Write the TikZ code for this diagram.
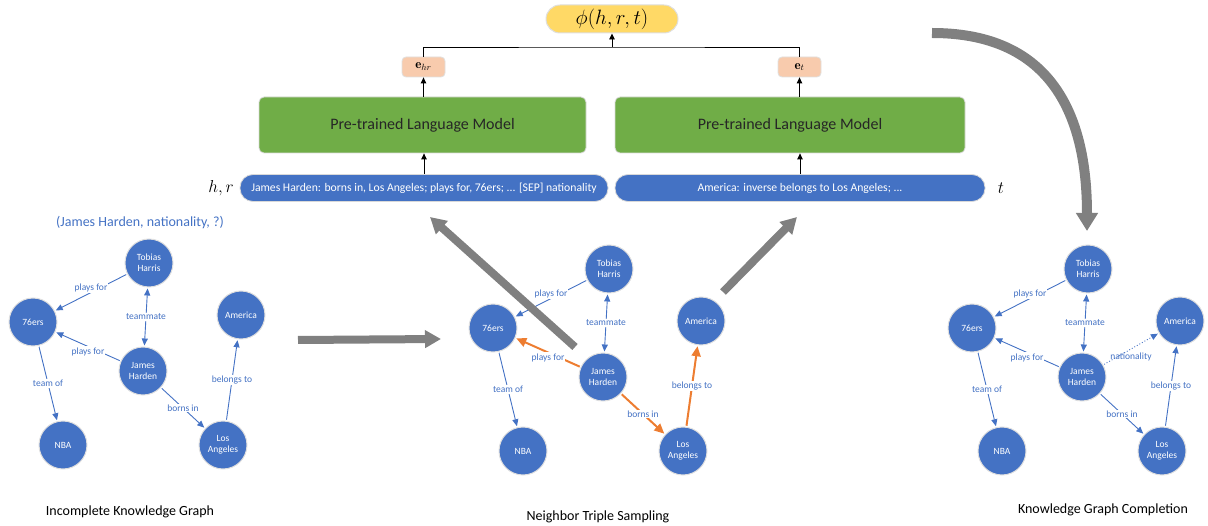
\documentclass[tikz,border=0pt]{standalone}
\usepackage{fontspec}
\newfontfamily\calibri{Carlito}
\usepackage{amsmath}
\usepackage{tikz}
\usetikzlibrary{arrows.meta,positioning,calc}
\definecolor{kgblue}{RGB}{68,114,196}
\definecolor{lmgreen}{RGB}{112,173,71}
\definecolor{hlorange}{RGB}{237,125,49}
\definecolor{phiyellow}{RGB}{255,217,102}
\definecolor{embpeach}{RGB}{248,203,173}
\definecolor{arrowgray}{RGB}{128,128,128}
\tikzset{
  kgnode/.style={circle, minimum size=48pt, inner sep=0pt, outer sep=1.5pt,
                 fill=kgblue, draw=gray!25, line width=1pt, text=white,
                 align=center, font=\calibri\fontsize{9.5}{11}\selectfont},
  kgedge/.style={draw=kgblue, line width=0.9pt, -{Triangle[length=7pt,width=6pt]}},
  kgboth/.style={draw=kgblue, line width=0.9pt,
                 {Triangle[length=7pt,width=6pt]}-{Triangle[length=7pt,width=6pt]}},
  hledge/.style={draw=hlorange, line width=2pt, -{Triangle[length=10pt,width=9pt]}},
  elabel/.style={font=\calibri\fontsize{9.5}{10}\selectfont, text=kgblue,
                 fill=white, inner sep=1pt},
  lmbox/.style={rectangle, rounded corners=5pt, minimum height=56pt, fill=lmgreen,
                draw=gray!30, line width=0.8pt, text=black!85,
                font=\calibri\fontsize{16}{18}\selectfont},
  textbar/.style={rectangle, rounded corners=13pt, minimum height=27pt, fill=kgblue,
                  draw=gray!30, line width=0.8pt, text=white,
                  font=\calibri\fontsize{11.7}{13}\selectfont},
  embbox/.style={rectangle, rounded corners=4pt, minimum width=43pt, minimum height=20pt,
                 inner sep=0pt, fill=embpeach, draw=gray!25, line width=0.8pt,
                 font=\fontsize{13}{15}\selectfont},
  phibox/.style={rectangle, rounded corners=14pt, minimum width=132pt, minimum height=28pt,
                 fill=phiyellow, draw=gray!25, line width=1pt,
                 font=\fontsize{20}{22}\selectfont},
  flow/.style={draw=black, line width=0.9pt, -{Triangle[length=6pt,width=5.5pt]}},
  bigarrow/.style={draw=arrowgray, line width=8pt, -{Triangle[length=16pt,width=17pt]}},
  caption/.style={font=\calibri\fontsize{14}{16}\selectfont, text=black},
}
\begin{document}
\begin{tikzpicture}[x=1pt, y=-1pt]
  \useasboundingbox (0,0) rectangle (1208,526);

  % Scoring head
  \node[phibox] (phi) at (612,19) {$\phi(h,r,t)$};
  \node[embbox] (ehr) at (423.5,67) {$\mathbf{e}_{hr}$};
  \node[embbox] (et) at (799.5,67) {$\mathbf{e}_{t}$};
  \coordinate (join) at (612,47);
  \draw[line width=0.9pt] (ehr.north) |- (join) -| (et.north);
  \draw[flow] (join) -- (phi.south);

  % Encoders
  \node[lmbox, minimum width=327pt] (lmL) at (422.5,125) {Pre-trained Language Model};
  \node[lmbox, minimum width=350pt] (lmR) at (790,125) {Pre-trained Language Model};
  \draw[flow] (lmL.north -| ehr.south) -- (ehr.south);
  \draw[flow] (lmR.north -| et.south) -- (et.south);

  % Input texts
  \node[textbar, minimum width=368pt] (barL) at (424,188)
    {James Harden: borns in, Los Angeles; plays for, 76ers; ... [SEP] nationality};
  \node[textbar, minimum width=370pt] (barR) at (800,188)
    {America: inverse belongs to Los Angeles; ...};
  \node[font=\fontsize{17}{19}\selectfont] (hr) at (221,188) {$h,r$};
  \node[font=\fontsize{17}{19}\selectfont] (tt) at (1001,188) {$t$};
  \draw[flow] (barL.north) -- (barL.north |- lmL.south);
  \draw[flow] (barR.north) -- (barR.north |- lmR.south);

  % Query
  \node[font=\calibri\fontsize{14}{16}\selectfont, text=kgblue] (query) at (140,223)
    {(James Harden, nationality, ?)};

  % Three copies of the graph
  \foreach \g/\gx/\gy/\hl in {L/33/322/kgedge, M/493/328/hledge, R/972/328/kgedge}{
    \begin{scope}[shift={(\gx,\gy)}]
      \node[kgnode] (\g-76ers) at (0,0) {76ers};
      \node[kgnode] (\g-tobias) at (116,-59) {Tobias\\Harris};
      \node[kgnode] (\g-america) at (208,-7) {America};
      \node[kgnode] (\g-james) at (110,49) {James\\Harden};
      \node[kgnode] (\g-nba) at (30,123) {NBA};
      \node[kgnode] (\g-la) at (190,123) {Los\\Angeles};
    \end{scope}
    \draw[kgedge] (\g-tobias) -- node[elabel, yshift=5pt] {plays for} (\g-76ers);
    \draw[kgboth] (\g-tobias) -- node[elabel] {teammate} (\g-james);
    \draw[\hl] (\g-james) -- node[elabel, yshift=-5pt] {plays for} (\g-76ers);
    \draw[kgedge] (\g-76ers) -- node[elabel] {team of} (\g-nba);
    \draw[\hl] (\g-james) -- node[elabel] {borns in} (\g-la);
    \draw[\hl] (\g-la) -- node[elabel] {belongs to} (\g-america);
  }
  % Completed link
  \draw[kgedge, dotted] (R-james) -- node[elabel, fill=none, yshift=-8pt] {nationality} (R-america);

  % Process arrows
  \coordinate (hA) at (298,340); \coordinate (hB) at (441,339);
  \coordinate (dA) at (575,347); \coordinate (dB) at (430,217);
  \coordinate (eA) at (723,292); \coordinate (eB) at (797,217);
  \coordinate (cA) at (932,33);  \coordinate (cB) at (1087,231);
  \draw[bigarrow] (hA) -- (hB);
  \draw[bigarrow] (dA) -- (dB);
  \draw[bigarrow] (eA) -- (eB);
  \draw[bigarrow, line width=10pt, -{Triangle[length=18pt,width=21pt]}]
    (cA) .. controls (1040,33) and (1087,100) .. (cB);

  % Captions
  \node[caption] (capL) at (130,512) {Incomplete Knowledge Graph};
  \node[caption] (capM) at (598,517) {Neighbor Triple Sampling};
  \node[caption] (capR) at (1103,510) {Knowledge Graph Completion};
\end{tikzpicture}
\end{document}
